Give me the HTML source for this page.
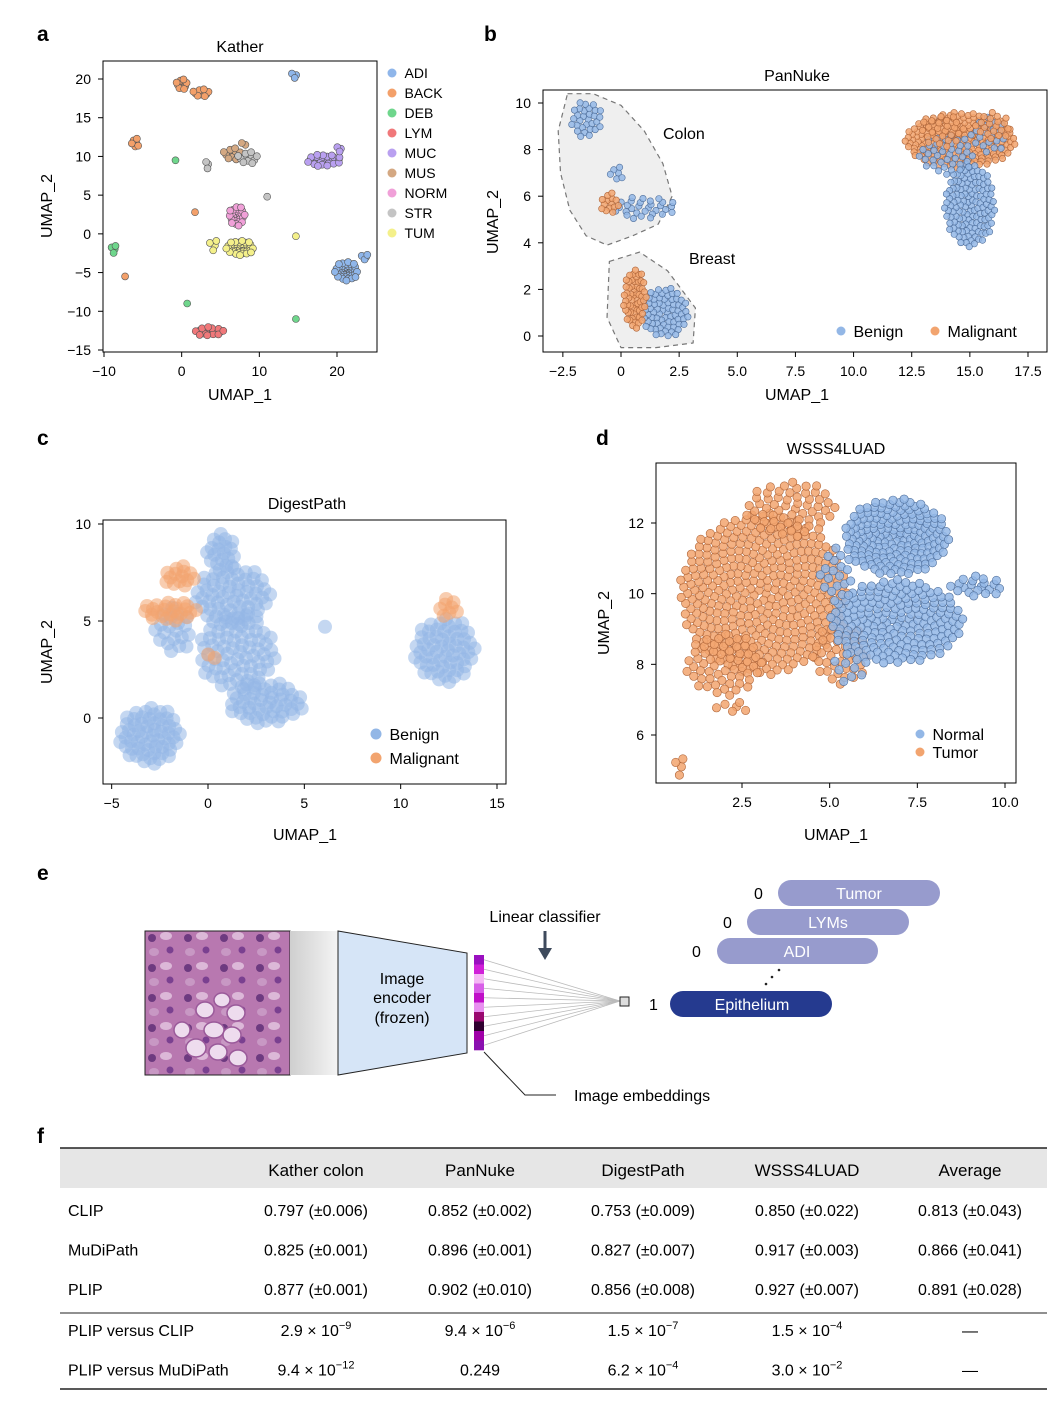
<!DOCTYPE html>
<html><head><meta charset="utf-8"><style>
html,body{margin:0;padding:0;background:#fff}
svg{display:block;font-family:"Liberation Sans",sans-serif}
</style></head><body>
<svg id="fig" width="1058" height="1402" viewBox="0 0 1058 1402" xmlns="http://www.w3.org/2000/svg">
<g font-weight="bold" font-size="21" fill="#000">
<text x="37" y="41">a</text>
<text x="484" y="41">b</text>
<text x="37" y="445">c</text>
<text x="596" y="445">d</text>
<text x="37" y="880">e</text>
<text x="37" y="1143">f</text>
</g>
<g id="plots"></g>
<g id="diagram">
 <defs>
  <linearGradient id="fade" x1="0" x2="1"><stop offset="0" stop-color="#cfcfcf"/><stop offset="1" stop-color="#f4f4f4"/></linearGradient>
  <pattern id="tissue" width="36" height="30" patternUnits="userSpaceOnUse">
   <rect width="36" height="30" fill="#b878b0"/>
   <circle cx="8" cy="8" r="4" fill="#6d3a80"/><circle cx="26" cy="20" r="3.5" fill="#7a4090"/>
   <ellipse cx="22" cy="6" rx="6" ry="4" fill="#dcb8d8"/><ellipse cx="10" cy="22" rx="5" ry="4" fill="#c898c4"/>
  </pattern>
 </defs>
 <rect x="145" y="931" width="145" height="144" fill="url(#tissue)" stroke="#222"/>
 <g fill="#eedcee" stroke="#9a5a9a" stroke-width="1.5">
  <ellipse cx="205" cy="1010" rx="9" ry="8"/><ellipse cx="222" cy="1000" rx="8" ry="7"/><ellipse cx="236" cy="1013" rx="9" ry="8"/>
  <ellipse cx="214" cy="1030" rx="10" ry="8"/><ellipse cx="232" cy="1035" rx="9" ry="8"/><ellipse cx="196" cy="1048" rx="10" ry="9"/>
  <ellipse cx="218" cy="1052" rx="9" ry="8"/><ellipse cx="238" cy="1058" rx="9" ry="8"/><ellipse cx="182" cy="1030" rx="8" ry="8"/>
 </g>
 <polygon points="290,931 338,931 338,1075 290,1075" fill="url(#fade)"/>
 <polygon points="338,931 467,953 467,1053 338,1075" fill="#d6e5f7" stroke="#222"/>
 <text x="402" y="984" font-size="16" text-anchor="middle">Image</text>
 <text x="402" y="1003" font-size="16" text-anchor="middle">encoder</text>
 <text x="402" y="1023" font-size="16" text-anchor="middle">(frozen)</text>
 <g id="fan" stroke="#bbb" stroke-width="0.8"></g>
 <g id="emb"></g>
 <rect x="620" y="997" width="9" height="9" fill="#ddd" stroke="#222"/>
 <text x="545" y="922" font-size="16" text-anchor="middle">Linear classifier</text>
 <line x1="545" y1="931" x2="545" y2="950" stroke="#3e4a5c" stroke-width="3"/>
 <polygon points="538,948 552,948 545,960" fill="#3e4a5c"/>
 <polyline points="484,1052 525,1095 556,1095" fill="none" stroke="#222"/>
 <text x="574" y="1101" font-size="16">Image embeddings</text>
 <rect x="778" y="880" width="162" height="26" rx="13" fill="#979bcd"/>
 <text x="859" y="899" font-size="16" fill="#fff" text-anchor="middle">Tumor</text>
 <rect x="747" y="909" width="162" height="26" rx="13" fill="#979bcd"/>
 <text x="828" y="928" font-size="16" fill="#fff" text-anchor="middle">LYMs</text>
 <rect x="717" y="938" width="161" height="26" rx="13" fill="#979bcd"/>
 <text x="797" y="957" font-size="16" fill="#fff" text-anchor="middle">ADI</text>
 <rect x="670" y="991" width="162" height="26" rx="13" fill="#253a8f"/>
 <text x="752" y="1010" font-size="16" fill="#fff" text-anchor="middle">Epithelium</text>
 <g font-size="16"><text x="754" y="899">0</text><text x="723" y="928">0</text><text x="692" y="957">0</text><text x="649" y="1010">1</text></g>
 <g fill="#222"><circle cx="779" cy="970" r="1.3"/><circle cx="772" cy="977" r="1.3"/><circle cx="766" cy="984" r="1.3"/></g>
</g>
<g id="table"></g>
</svg>
<script>
// ---------- data ----------
const aClasses = ["ADI","BACK","DEB","LYM","MUC","MUS","NORM","STR","TUM"];
const aFill = ["#8fb6ea","#f3a06a","#6fd68c","#f0787a","#b9a0f0","#d4a882","#f0a0d8","#c4c4c4","#f4f08a"];
// cluster: class index, cx, cy, rx, ry, n
const aClusters = [
 [0,14.5,20.5,0.6,0.4,3],[0,21.2,-4.8,1.5,1.3,40],[0,23.5,-3,0.7,0.4,4],
 [1,0,19.3,0.8,0.7,12],[1,2.5,18.2,1.2,0.5,12],[1,-6,11.8,0.5,0.8,6],[1,1.5,2.8,0.3,0.3,1],[1,-7.5,-5.5,0.3,0.3,1],
 [2,-8.8,-2,0.5,0.6,4],[2,-1,9.5,0.3,0.3,1],[2,0.5,-9,0.3,0.3,1],[2,14.5,-11,0.3,0.3,1],
 [3,3.5,-12.6,1.9,0.6,22],
 [4,18.3,9.5,2.3,0.8,30],[4,20.3,11,0.5,0.4,3],
 [5,6.5,10.3,1.3,0.8,12],[5,8,11.5,0.4,0.4,2],
 [6,7.1,2.3,1.1,1.3,25],
 [7,8.5,9.8,1.5,0.8,12],[7,3.3,9,0.3,0.6,3],[7,10.8,4.8,0.3,0.3,1],
 [8,7.5,-1.8,1.8,1.0,40],[8,4,-1.5,0.8,0.8,4],[8,14.5,-0.3,0.3,0.3,1]
];
const bClasses = ["Benign","Malignant"];
const bClusters = [
 [1,14.6,8.4,2.4,1.2,220],
 [0,-1.5,9.3,0.7,0.8,30],[0,-0.2,7.0,0.3,0.4,6],[0,1.0,5.5,1.4,0.5,30],
 [0,1.9,1.0,1.0,1.1,70],[0,15.0,5.6,1.1,1.8,130],[0,14.0,7.8,1.2,0.9,40],[0,15.8,8.6,0.8,0.8,20],
 [1,-0.5,5.7,0.4,0.5,14],[1,0.6,1.6,0.5,1.3,60],[1,13.8,8.8,1.0,0.7,25],[1,16.0,9.0,0.8,0.6,20]
];
const colonHull = [[-2.3,10.4],[-1.2,10.4],[0,9.9],[1.0,8.8],[1.8,7.4],[2.2,6.0],[1.6,4.8],[0.5,4.3],[-0.6,3.9],[-1.5,4.3],[-2.2,5.4],[-2.6,7.0],[-2.7,8.8]];
const breastHull = [[-0.5,3.2],[0.8,3.6],[2.0,2.8],[3.2,1.2],[3.1,-0.3],[1.5,-0.5],[0,-0.5],[-0.6,0.8]];
const cClusters = [
 [0,-3,-0.9,1.6,1.5,60],[0,0.7,8.5,0.8,1.0,20],[0,1.3,6.3,2.0,1.5,60],[0,1.5,3.4,2.0,2.0,70],
 [0,3.0,0.8,2.0,1.1,50],[0,-1.8,4.5,1.0,1.2,20],[0,12.3,3.5,1.6,1.7,60],[0,6,4.7,0.1,0.1,1],
 [1,-2.0,5.5,1.5,0.5,25],[1,-1.5,7.3,0.8,0.6,14],[1,12.5,5.7,0.6,0.5,8],[1,0.2,3.1,0.3,0.3,2]
];
const dClusters = [
 [1,3.1,10.0,2.4,2.3,380],[1,3.9,12.4,1.3,0.8,60],[1,2.0,8.0,1.1,0.9,60],[1,5.3,8.3,0.8,0.9,40],
 [1,2.2,6.8,0.5,0.2,6],[1,0.7,5.1,0.2,0.3,4],
 [0,6.9,11.6,1.5,1.1,180],[0,6.9,9.2,1.9,1.2,200],[0,9.2,10.2,0.8,0.3,20],[0,5.6,7.9,0.5,0.5,10],[0,5.2,10.5,0.5,0.8,20]
];
const bdFill = ["#93b7e6","#f2a46f"];
const bdStroke = ["#4f6f9c","#b0663a"];
const tblHead = ["","Kather colon","PanNuke","DigestPath","WSSS4LUAD","Average"];
const tblRows = [
 ["CLIP","0.797 (±0.006)","0.852 (±0.002)","0.753 (±0.009)","0.850 (±0.022)","0.813 (±0.043)"],
 ["MuDiPath","0.825 (±0.001)","0.896 (±0.001)","0.827 (±0.007)","0.917 (±0.003)","0.866 (±0.041)"],
 ["PLIP","0.877 (±0.001)","0.902 (±0.010)","0.856 (±0.008)","0.927 (±0.007)","0.891 (±0.028)"]
];
const tblP = [
 ["PLIP versus CLIP",["2.9","−9"],["9.4","−6"],["1.5","−7"],["1.5","−4"],"—"],
 ["PLIP versus MuDiPath",["9.4","−12"],"0.249",["6.2","−4"],["3.0","−2"],"—"]
];
const embColors = ["#9a10c0","#d020d8","#f5b8f5","#d860e8","#c010c8","#e890f0","#9a0870","#300030","#a000a8","#8a10b0"];

// ---------- helpers ----------
const NS="http://www.w3.org/2000/svg";
function el(tag,attrs,parent,txt){const e=document.createElementNS(NS,tag);for(const k in attrs)e.setAttribute(k,attrs[k]);if(txt!==undefined)e.textContent=txt;parent.appendChild(e);return e;}
function lin(d0,p0,d1,p1){return v=>p0+(v-d0)*(p1-p0)/(d1-d0);}
const root=document.getElementById("plots");

function panel(cfg){
 const g=el("g",{},root);
 
 
 const X=lin(...cfg.xs), Y=lin(...cfg.ys);
 const [bx0,by0,bx1,by1]=cfg.box;
 const cid="clip-"+cfg.name;
 const cp=el("clipPath",{id:cid},g); el("rect",{x:bx0,y:by0,width:bx1-bx0,height:by1-by0},cp);
 const pts=el("g",{"clip-path":"url(#"+cid+")"},g);
 if(cfg.pre) cfg.pre(pts,X,Y);
 cfg.clusters.forEach(cl=>{
  const [k,cx,cy,rx,ry,n]=cl;
  for(let i=0;i<n;i++){
   const r=Math.sqrt((i+0.5)/n), th=i*2.39996;
   const c=el("circle",{cx:X(cx+rx*r*Math.cos(th)).toFixed(1),cy:Y(cy+ry*r*Math.sin(th)).toFixed(1),r:cfg.mr,fill:cfg.fill[k],stroke:cfg.stroke?cfg.stroke[k]:"none","stroke-width":0.6,"fill-opacity":cfg.op||1},pts);
   
   
  }
 });
 const fr=el("rect",{x:bx0,y:by0,width:bx1-bx0,height:by1-by0,fill:"none",stroke:"#000","stroke-width":1},g);
 
 
 cfg.xt.forEach(t=>{const x=X(t);el("line",{x1:x,y1:by1,x2:x,y2:by1+5,stroke:"#000"},g);
  const tl=el("text",{x:x,y:by1+24,"font-size":14,"text-anchor":"middle"},g,cfg.fmt?cfg.fmt(t):String(t).replace("-","−"));
  
  });
 cfg.yt.forEach(t=>{const y=Y(t);el("line",{x1:bx0-5,y1:y,x2:bx0,y2:y,stroke:"#000"},g);
  const tl=el("text",{x:bx0-12,y:y+5,"font-size":14,"text-anchor":"end"},g,String(t).replace("-","−"));
  
  });
 const xt=el("text",{x:cfg.xlab[0],y:cfg.xlab[1],"font-size":16,"text-anchor":"middle"},g,"UMAP_1");
 
 
 const yt=el("text",{x:cfg.ylab[0],y:cfg.ylab[1],"font-size":16,"text-anchor":"middle",transform:`rotate(-90 ${cfg.ylab[0]} ${cfg.ylab[1]})`},g,"UMAP_2");
 
 
 const tt=el("text",{x:cfg.title[0],y:cfg.title[1],"font-size":16,"text-anchor":"middle"},g,cfg.title[2]);
 
 
 cfg.legend.forEach(([lx,ly,k,fs,r])=>{
  const lg=el("g",{},g);
  
  
  el("circle",{cx:lx,cy:ly,r:r,fill:cfg.fill[k]},lg);
  el("text",{x:lx+r+8,y:ly+fs*0.36,"font-size":fs},lg,cfg.cls[k]);
 });
 return {X,Y,g};
}

// panel a
panel({name:"kather-umap",xs:[-10,104,20,337],ys:[20,79,-15,350],box:[103,61,377,352],
 clusters:aClusters,cls:aClasses,fill:aFill,stroke:aFill.map(()=>"#555"),mr:3.5,
 xt:[-10,0,10,20],yt:[20,15,10,5,0,-5,-10,-15],xlab:[240,400],ylab:[52,206],title:[240,52,"Kather"],
 legend:aClasses.map((c,i)=>[392,73+20*i,i,14,4.5])});

// panel b
panel({name:"pannuke-umap",xs:[0,621,17.5,1028],ys:[0,336,10,103],box:[543,90,1047,352],
 clusters:bClusters,cls:bClasses,fill:bdFill,stroke:bdStroke,mr:3.2,op:0.85,
 pre:(g,X,Y)=>{[colonHull,breastHull].forEach(h=>{
   const p=el("polygon",{points:h.map(q=>X(q[0])+","+Y(q[1])).join(" "),fill:"#efefef",stroke:"#777","stroke-dasharray":"5,4","stroke-width":1.2,"stroke-linejoin":"round"},g);
   
   });},
 xt:[-2.5,0,2.5,5,7.5,10,12.5,15,17.5],fmt:t=>t===0?"0":t.toFixed(1).replace("-","−"),yt:[10,8,6,4,2,0],xlab:[797,400],ylab:[498,222],title:[797,81,"PanNuke"],
 legend:[[841,331,0,16,4.5],[935,331,1,16,4.5]]});
(function(){const g=document.getElementById("plots");
 const t1=el("text",{x:663,y:139,"font-size":16},g,"Colon");
 const t2=el("text",{x:689,y:264,"font-size":16},g,"Breast");})();

// panel c
panel({name:"digestpath-umap",xs:[0,208,15,497],ys:[0,718,10,524],box:[103,520,506,784],
 clusters:cClusters,cls:bClasses,fill:bdFill,mr:7,op:0.55,
 xt:[-5,0,5,10,15],yt:[10,5,0],xlab:[305,840],ylab:[52,652],title:[307,509,"DigestPath"],
 legend:[[376,734,0,16,5.5],[376,758,1,16,5.5]]});

// panel d
panel({name:"wsss4luad-umap",xs:[2.5,742,10,1005],ys:[6,735,12,523],box:[656,463,1016,783],
 clusters:dClusters,cls:["Normal","Tumor"],fill:bdFill,stroke:bdStroke,mr:4.2,op:0.85,
 xt:[2.5,5,7.5,10],fmt:t=>t.toFixed(1),yt:[12,10,8,6],xlab:[836,840],ylab:[609,623],title:[836,454,"WSSS4LUAD"],
 legend:[[920,734,0,16,4.5],[920,752,1,16,4.5]]});

// embeddings + fan
(function(){const emb=document.getElementById("emb"),fan=document.getElementById("fan");
 const h=95/embColors.length;
 embColors.forEach((c,i)=>{el("rect",{x:474,y:955+i*h,width:10,height:h+0.3,fill:c},emb);
  el("line",{x1:484,y1:955+i*h+h/2,x2:620,y2:1001},fan);});})();

// table
(function(){const t=document.getElementById("table");
 el("rect",{x:60,y:1148,width:987,height:40,fill:"#e6e6e6"},t);
 el("line",{x1:60,y1:1148,x2:1047,y2:1148,stroke:"#222","stroke-width":1.5},t);
 el("line",{x1:60,y1:1313,x2:1047,y2:1313,stroke:"#222","stroke-width":1},t);
 el("line",{x1:60,y1:1389,x2:1047,y2:1389,stroke:"#222","stroke-width":1.5},t);
 const cx=[68,316,480,643,807,970];
 tblHead.forEach((h,i)=>{if(i){const e=el("text",{x:cx[i],y:1176,"font-size":17,"text-anchor":"middle"},t,h);
  }});
 tblRows.forEach((r,ri)=>{const y=1216+ri*39.5;r.forEach((v,i)=>{
  const e=el("text",{x:cx[i],y:y,"font-size":16,"text-anchor":i?"middle":"start"},t,v);
  });});
 tblP.forEach((r,ri)=>{const y=1336+ri*39.5;r.forEach((v,i)=>{
  const e=el("text",{x:cx[i],y:y,"font-size":16,"text-anchor":i?"middle":"start"},t);
  
  if(Array.isArray(v)){e.textContent=v[0]+" × 10";el("tspan",{dy:-7,"font-size":11},e,v[1]);}
  else e.textContent=v;});});
})();
</script>
</body></html>
